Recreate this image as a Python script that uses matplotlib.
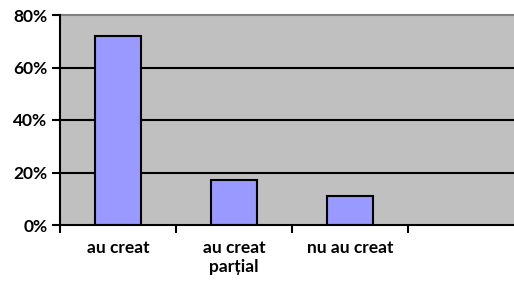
import matplotlib.pyplot as plt
import numpy as np

categories = ['au creat', 'au creat\nparțial', 'nu au creat']
values = [72, 17, 11]
yticks = [0, 20, 40, 60, 80]

plt.rcParams['font.family'] = ['Lato', 'DejaVu Sans']

fig = plt.figure(figsize=(5.14, 2.84), dpi=100)
# plot area runs a little past the right edge, as in the original
ax = fig.add_axes([60 / 514, 59 / 284, 464 / 514, 210 / 284])
ax.set_facecolor('#C0C0C0')

x = np.arange(len(categories))
ax.bar(x, values, width=0.4, color='#9999FF', edgecolor='black', linewidth=1.5, zorder=3)

ax.set_xlim(-0.5, 3.5)
ax.set_ylim(0, 80)

# grid lines
for v in yticks[1:-1]:
    ax.axhline(v, color='black', linewidth=1.5, zorder=1)

ax.set_yticks(yticks)
ax.set_yticklabels([f'{v}%' for v in yticks], fontsize=12.5, fontweight='bold')
ax.tick_params(axis='y', length=6, width=1.5, pad=3)

ax.set_xticks(x)
ax.set_xticklabels(categories, fontsize=12.5, fontweight='bold', linespacing=1.2)
ax.set_xticks(np.arange(-0.5, 3.6, 1), minor=True)
ax.tick_params(axis='x', which='major', length=0, pad=11)
ax.tick_params(axis='x', which='minor', length=6, width=1.5)

for s in ['left', 'bottom']:
    ax.spines[s].set_linewidth(1.5)
    ax.spines[s].set_zorder(4)
ax.spines['top'].set_color('#808080')
ax.spines['top'].set_linewidth(1.5)
ax.spines['right'].set_visible(False)

fig.savefig('out.png', dpi=100)
